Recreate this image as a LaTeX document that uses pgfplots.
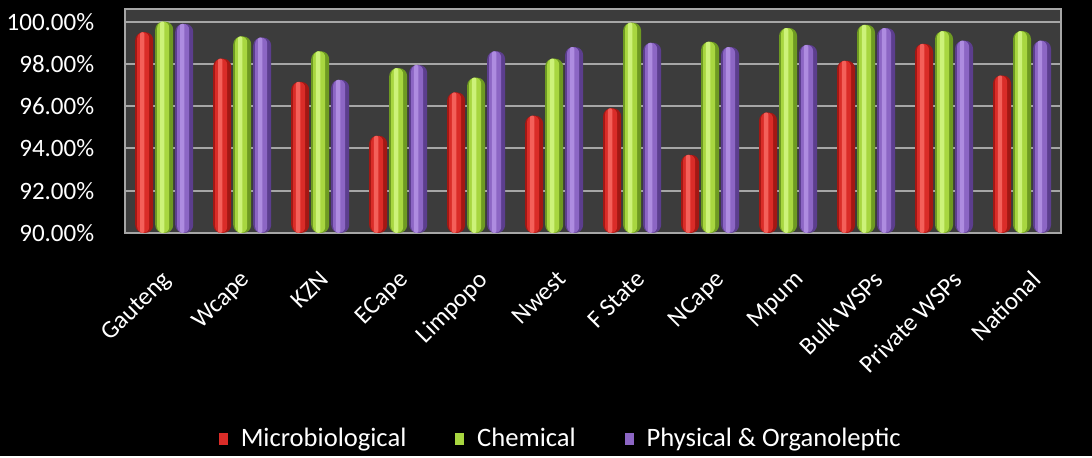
\documentclass[border=0pt]{standalone}
\usepackage{pgfplots}
\usepackage{pgfplotstable}
\pgfplotsset{compat=1.18}
\usepackage{fontspec}
\setmainfont{Carlito}
\definecolor{redL}{HTML}{F4605A}
\definecolor{redC}{HTML}{DA2C28}
\definecolor{redD}{HTML}{A31814}
\definecolor{grnL}{HTML}{CDF27A}
\definecolor{grnC}{HTML}{A8D640}
\definecolor{grnD}{HTML}{6E9A22}
\definecolor{purL}{HTML}{AE8CE0}
\definecolor{purC}{HTML}{8C66C4}
\definecolor{purD}{HTML}{5C3E8E}
\definecolor{wall}{HTML}{3C3C3C}
\definecolor{gridc}{HTML}{A6A6A6}
\pgfplotstableread{
x micro chem phys
0 99.5 100.0 99.9
1 98.25 99.3 99.25
2 97.15 98.6 97.25
3 94.6 97.8 97.95
4 96.65 97.35 98.6
5 95.55 98.25 98.8
6 95.9 99.95 99.0
7 93.7 99.05 98.8
8 95.7 99.7 98.9
9 98.15 99.85 99.7
10 98.95 99.55 99.1
11 97.45 99.55 99.1
}\datatable
\begin{document}
\begin{tikzpicture}
\fill[black] (-62.5pt,-111.5pt) rectangle (483.5pt,116.5pt);
\begin{axis}[
  at={(0,0)}, anchor=south west,
  scale only axis,
  width=468pt, height=112pt,
  ymin=90, ymax=100.6,
  xmin=-0.5, xmax=11.5,
  ytick={90,92,94,96,98,100},
  yticklabel={\pgfmathprintnumber[fixed,fixed zerofill,precision=2]{\tick}\%},
  /pgf/number format/assume math mode=true,
  xtick={0,1.014,2.028,3.042,4.056,5.07,6.084,7.098,8.112,9.126,10.14,11.154},
  xticklabels={Gauteng,Wcape,KZN,ECape,Limpopo,Nwest,F State,NCape,Mpum,Bulk WSPs,Private WSPs,National},
  major tick length=0pt,
  tick label style={white},
  yticklabel style={font=\fontsize{12.5}{14}\selectfont, xshift=-12pt},
  xticklabel style={font=\fontsize{12.5}{13}\selectfont, xshift=-2pt, yshift=-16.5pt, rotate=45, anchor=north east, inner sep=1pt},
  axis background/.style={fill=wall},
  axis line style={gridc, line width=1pt},
  ymajorgrids, grid style={gridc, line width=1pt},
  legend style={at={(0.466,-0.92)}, anchor=center, draw=none, fill=none,
    text=white, font=\fontsize{13.3}{15}\selectfont, legend columns=3,
    /tikz/every odd column/.append style={column sep=4pt},
    /tikz/every even column/.append style={column sep=22pt}},
  legend image code/.code={\fill[#1] (0pt,-3.3pt) rectangle (5pt,3.3pt);},
]
% Microbiological
\addplot[ybar, forget plot, bar width=9pt, bar shift=-10pt, fill=redD, draw=none, rounded corners=4pt] table[x=x,y=micro]{\datatable};
\addplot[ybar, forget plot, bar width=6pt, bar shift=-10.5pt, fill=redC, draw=none, rounded corners=3pt] table[x=x,y=micro]{\datatable};
\addplot[ybar, forget plot, bar width=2.2pt, bar shift=-11pt, fill=redL, draw=none, rounded corners=1pt] table[x=x,y=micro]{\datatable};
% Chemical
\addplot[ybar, forget plot, bar width=9pt, bar shift=0pt, fill=grnD, draw=none, rounded corners=4pt] table[x=x,y=chem]{\datatable};
\addplot[ybar, forget plot, bar width=6pt, bar shift=-0.5pt, fill=grnC, draw=none, rounded corners=3pt] table[x=x,y=chem]{\datatable};
\addplot[ybar, forget plot, bar width=2.2pt, bar shift=-1pt, fill=grnL, draw=none, rounded corners=1pt] table[x=x,y=chem]{\datatable};
% Physical
\addplot[ybar, forget plot, bar width=9pt, bar shift=10pt, fill=purD, draw=none, rounded corners=4pt] table[x=x,y=phys]{\datatable};
\addplot[ybar, forget plot, bar width=6pt, bar shift=9.5pt, fill=purC, draw=none, rounded corners=3pt] table[x=x,y=phys]{\datatable};
\addplot[ybar, forget plot, bar width=2.2pt, bar shift=9pt, fill=purL, draw=none, rounded corners=1pt] table[x=x,y=phys]{\datatable};
\addlegendimage{fill=redC}
\addlegendentry{Microbiological}
\addlegendimage{fill=grnC}
\addlegendentry{Chemical}
\addlegendimage{fill=purC}
\addlegendentry{Physical \& Organoleptic}
\end{axis}
\end{tikzpicture}
\end{document}
